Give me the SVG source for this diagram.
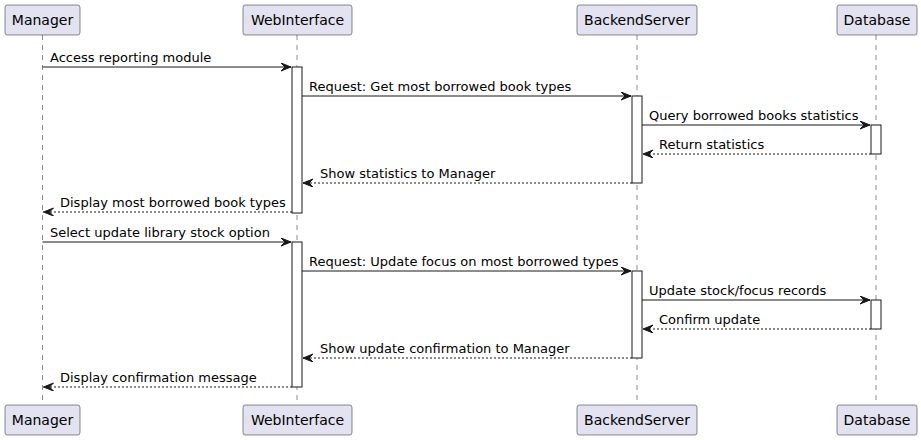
<svg xmlns="http://www.w3.org/2000/svg" width="921" height="440" viewBox="0 0 921 440">
<defs>
<style>
.box{fill:#E2E2F0;stroke:#181818;stroke-width:0.5}
.pt{font-family:"DejaVu Sans",sans-serif;font-size:14px;fill:#000;text-anchor:middle}
.life{stroke:#181818;stroke-width:0.5;stroke-dasharray:5,5;fill:none}
.act{fill:#FFFFFF;stroke:#181818;stroke-width:1}
.msg{stroke:#181818;stroke-width:1;fill:none;marker-end:url(#ah)}
.ret{stroke-dasharray:2,2}
.mt{font-family:"DejaVu Sans",sans-serif;font-size:13px;fill:#000}
</style>
<marker id="ah" markerUnits="userSpaceOnUse" markerWidth="11" markerHeight="9" refX="10" refY="4" orient="auto" viewBox="0 0 11 9">
<path d="M0,0 L10,4 L0,8 L4,4 Z" fill="#181818" stroke="#181818" stroke-width="1"/>
</marker>
</defs>
<rect width="921" height="440" fill="#FFFFFF"/>
<g id="lifelines">
<line class="life" x1="42.5" y1="35" x2="42.5" y2="405"/>
<line class="life" x1="297" y1="35" x2="297" y2="405"/>
<line class="life" x1="637" y1="35" x2="637" y2="405"/>
<line class="life" x1="876" y1="35" x2="876" y2="405"/>
</g>
<g id="Manager">
<rect class="box" x="5" y="5" width="75" height="30" rx="2.5"/>
<text class="pt" x="42.5" y="25">Manager</text>
<rect class="box" x="5" y="405" width="75" height="30" rx="2.5"/>
<text class="pt" x="42.5" y="425">Manager</text>
</g>
<g id="WebInterface">
<rect class="box" x="243" y="5" width="109" height="30" rx="2.5"/>
<text class="pt" x="297.5" y="25">WebInterface</text>
<rect class="box" x="243" y="405" width="109" height="30" rx="2.5"/>
<text class="pt" x="297.5" y="425">WebInterface</text>
<rect class="act" x="292" y="67" width="10" height="146"/>
<rect class="act" x="292" y="242" width="10" height="145"/>
</g>
<g id="BackendServer">
<rect class="box" x="577" y="5" width="120" height="30" rx="2.5"/>
<text class="pt" x="637" y="25">BackendServer</text>
<rect class="box" x="577" y="405" width="120" height="30" rx="2.5"/>
<text class="pt" x="637" y="425">BackendServer</text>
<rect class="act" x="632" y="96" width="10" height="87"/>
<rect class="act" x="632" y="271" width="10" height="87"/>
</g>
<g id="Database">
<rect class="box" x="837" y="5" width="80" height="30" rx="2.5"/>
<text class="pt" x="877" y="25">Database</text>
<rect class="box" x="837" y="405" width="80" height="30" rx="2.5"/>
<text class="pt" x="877" y="425">Database</text>
<rect class="act" x="871" y="125" width="10" height="29"/>
<rect class="act" x="871" y="300" width="10" height="29"/>
</g>
<g id="connectors">
<line class="msg" x1="42.5" y1="67" x2="291" y2="67"/>
<text class="mt" x="50" y="62">Access reporting module</text>
<line class="msg" x1="302" y1="96" x2="631" y2="96"/>
<text class="mt" x="309" y="91">Request: Get most borrowed book types</text>
<line class="msg" x1="642" y1="125" x2="870" y2="125"/>
<text class="mt" x="649" y="120">Query borrowed books statistics</text>
<line class="msg ret" x1="871" y1="154" x2="643" y2="154"/>
<text class="mt" x="659" y="149">Return statistics</text>
<line class="msg ret" x1="632" y1="183" x2="303" y2="183"/>
<text class="mt" x="320" y="178">Show statistics to Manager</text>
<line class="msg ret" x1="292" y1="212" x2="43.5" y2="212"/>
<text class="mt" x="60" y="207">Display most borrowed book types</text>
<line class="msg" x1="42.5" y1="242" x2="291" y2="242"/>
<text class="mt" x="50" y="237">Select update library stock option</text>
<line class="msg" x1="302" y1="271" x2="631" y2="271"/>
<text class="mt" x="309" y="266">Request: Update focus on most borrowed types</text>
<line class="msg" x1="642" y1="300" x2="870" y2="300"/>
<text class="mt" x="649" y="295">Update stock/focus records</text>
<line class="msg ret" x1="871" y1="329" x2="643" y2="329"/>
<text class="mt" x="659" y="324">Confirm update</text>
<line class="msg ret" x1="632" y1="358" x2="303" y2="358"/>
<text class="mt" x="320" y="353">Show update confirmation to Manager</text>
<line class="msg ret" x1="292" y1="387" x2="43.5" y2="387"/>
<text class="mt" x="60" y="382">Display confirmation message</text>
</g>
</svg>
